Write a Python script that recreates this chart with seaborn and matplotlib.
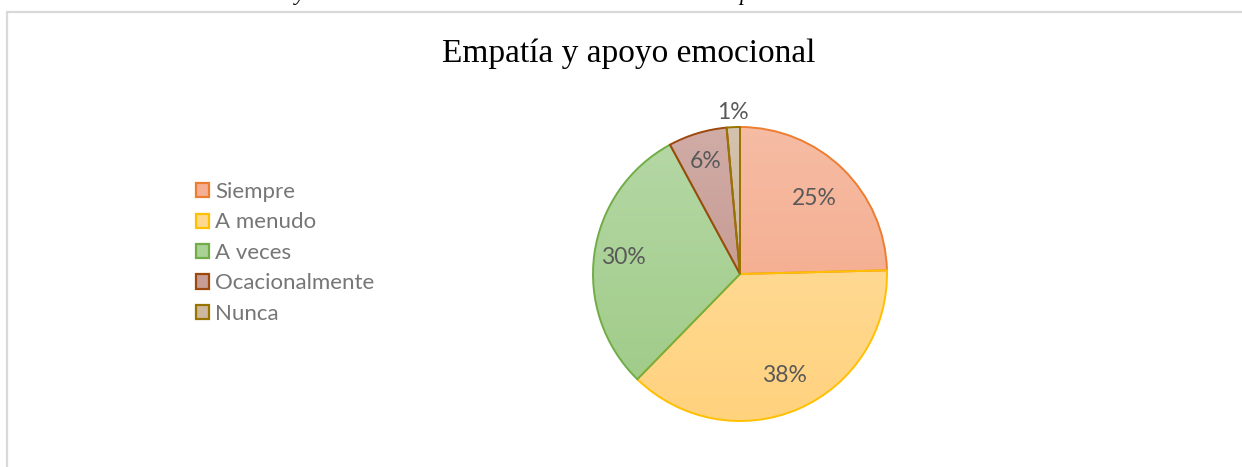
import numpy as np
import matplotlib
matplotlib.use("Agg")
import matplotlib.pyplot as plt
import seaborn as sns
from matplotlib.colors import LinearSegmentedColormap
from matplotlib.patches import Patch, Rectangle

# --- data ---
categories = ["Siempre", "A menudo", "A veces", "Ocacionalmente", "Nunca"]
shares = [24.6, 37.7, 29.8, 6.45, 1.45]
title = "Empatía y apoyo emocional"

# --- style ---
edge_colors = ["#ED7D31", "#FFC000", "#70AD47", "#9E480E", "#997300"]
top_colors = ["#F6BCA4", "#FFDFA3", "#B6D8A6", "#D0ACA6", "#D4C2AE"]
bottom_colors = ["#F4A482", "#FFD27E", "#9DCA85", "#C08E84", "#C9AE92"]
mid_colors = ["#F5B094", "#FFD890", "#AAD196", "#C89D95", "#CEB8A0"]
# label distance from centre (fraction of radius), as in the reference
label_dist = [0.72, 0.75, 0.80, 0.80, 1.10]

W, H = 1242, 467
sns.set_theme(style="white")
plt.rcParams["font.family"] = ["Lato", "DejaVu Sans"]

fig = plt.figure(figsize=(W / 100, H / 100), dpi=100)
fig.patch.set_facecolor("white")

# chart frame (cut off at right and bottom)
fig.patches.append(Rectangle((7 / W, -0.1), 1.2, (H - 12) / H + 0.1,
                             transform=fig.transFigure, fill=False,
                             edgecolor="#D9D9D9", linewidth=1.6))

# fragments of the cropped caption above the frame
fig.text(300 / W, 1.0, "y", family="Liberation Serif", style="italic",
         fontsize=16, ha="center", va="baseline", color="black")
fig.text(745 / W, 1.0, "p", family="Liberation Serif", style="italic",
         fontsize=16, ha="center", va="baseline", color="black")

fig.text(629 / W, 1 - 62 / H, title, family="Liberation Serif",
         fontsize=24, ha="center", va="baseline", color="black")

# pie axes: centre (740, 274), radius 147 px
cx, cy, r = 740, 274, 147
ax = fig.add_axes([(cx - r) / W, 1 - (cy + r) / H, 2 * r / W, 2 * r / H])
wedges, _ = ax.pie(shares, startangle=90, counterclock=False,
                   colors=mid_colors, wedgeprops=dict(linewidth=1.4))

grad = np.linspace(0, 1, 256).reshape(-1, 1)
for w, c0, c1, ec in zip(wedges, top_colors, bottom_colors, edge_colors):
    cmap = LinearSegmentedColormap.from_list("g", [c0, c1])
    im = ax.imshow(grad, extent=(-1, 1, -1, 1), cmap=cmap, aspect="auto",
                   zorder=1)
    im.set_clip_path(w)
    w.set_facecolor("none")
    w.set_edgecolor(ec)
    w.set_zorder(2)

for w, d, v in zip(wedges, label_dist, shares):
    ang = np.deg2rad((w.theta1 + w.theta2) / 2)
    ax.text(d * np.cos(ang), d * np.sin(ang), f"{v:.0f}%", ha="center",
            va="center", fontsize=16.5, color="#595959", zorder=3,
            clip_on=False)

ax.set_xlim(-1, 1)
ax.set_ylim(-1, 1)
ax.set_aspect("equal")
ax.axis("off")

handles = [Patch(facecolor=fc, edgecolor=ec, linewidth=1.6)
           for fc, ec in zip(mid_colors, edge_colors)]
fig.legend(handles, categories, loc="upper left",
           bbox_to_anchor=(196 / W, 1 - 182 / H), frameon=False,
           fontsize=16, labelcolor="#767676", handlelength=0.6,
           handleheight=0.6, handletextpad=0.25, labelspacing=0.47,
           borderpad=0, borderaxespad=0)

fig.savefig("out.png", dpi=100)
